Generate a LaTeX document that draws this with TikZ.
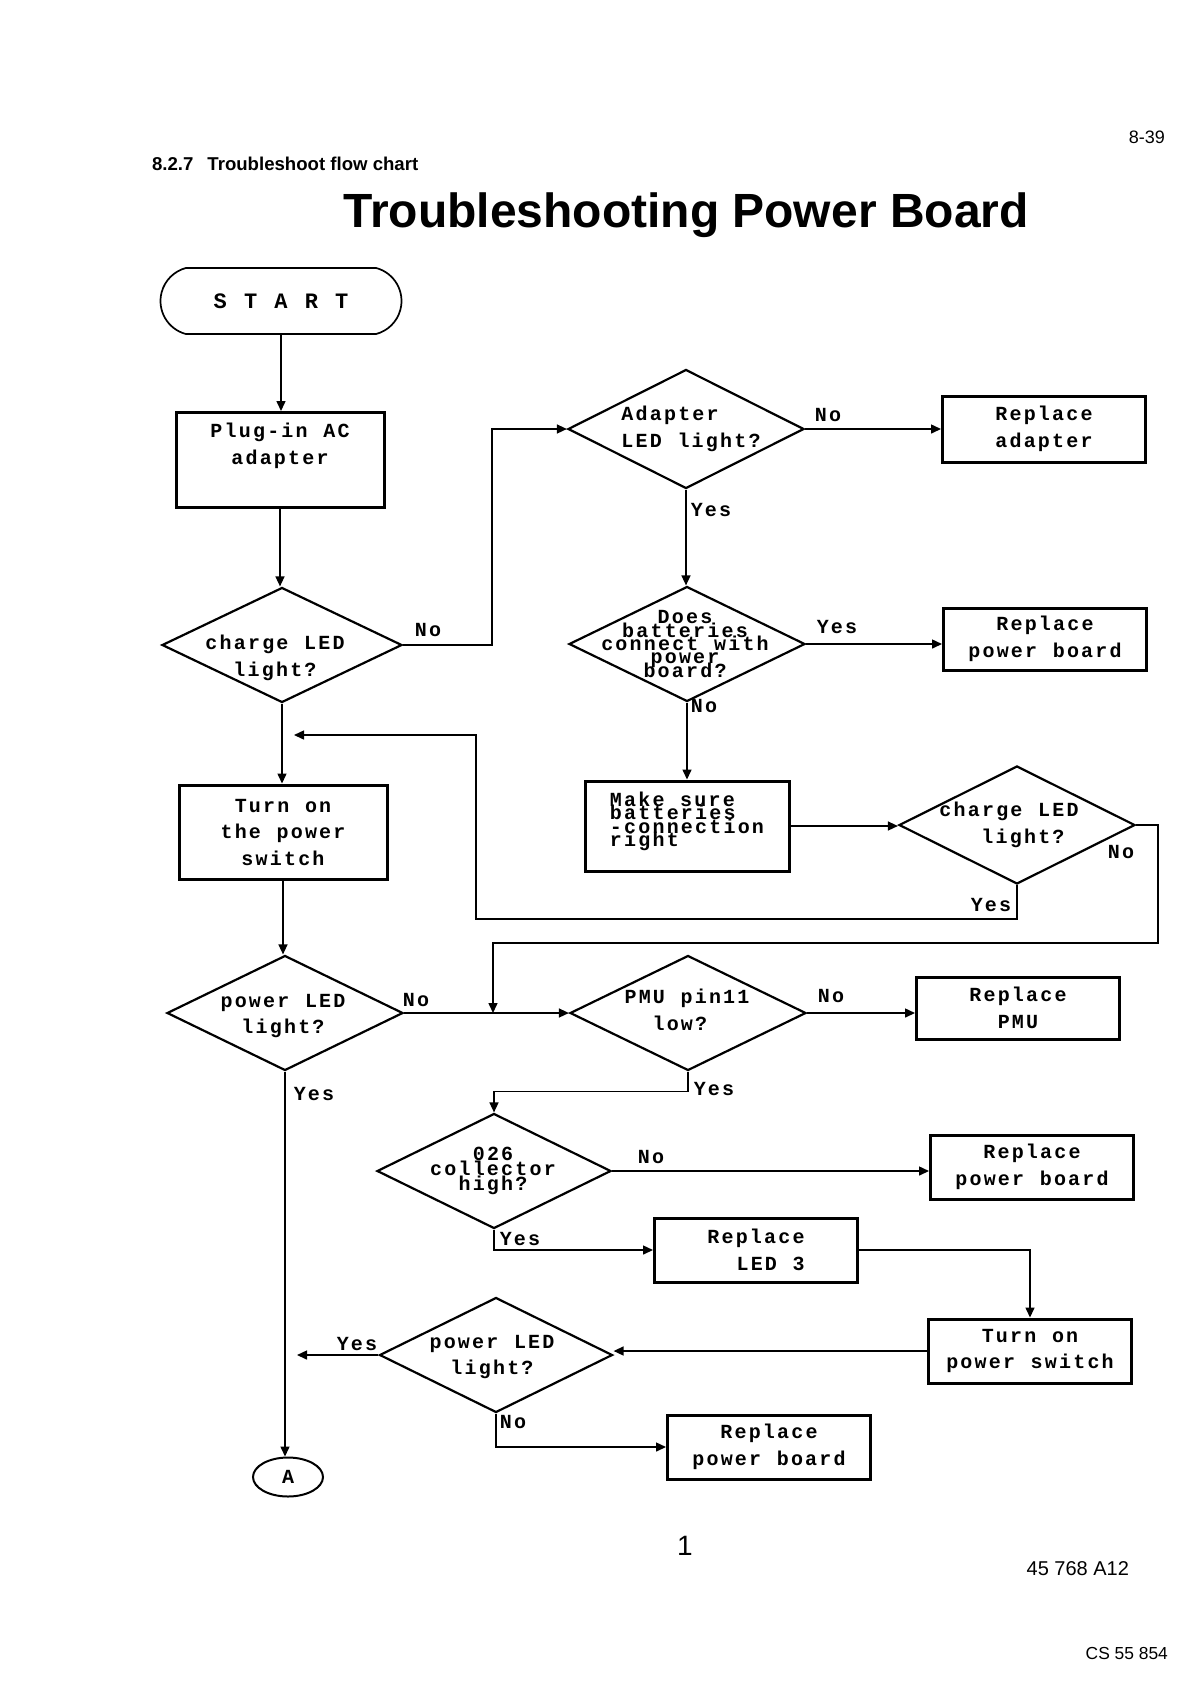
\documentclass[tikz,border=0pt]{standalone}
\usepackage{fontspec}
\setmainfont{Liberation Sans}
\newfontfamily\plotfont[LetterSpace=11,WordSpace=1.1]{Liberation Mono Bold}
\usetikzlibrary{shapes.geometric,shapes.misc,arrows.meta}

\begin{document}
\begin{tikzpicture}[x=0.5pt,y=-0.5pt,
    chart/.style={font=\plotfont\fontsize{10}{13.25}\selectfont},
    box/.style={chart, draw, line width=1.5pt, rectangle, inner sep=0pt,
      minimum width=101.5pt, minimum height=32pt, align=center},
    dec/.style={draw, line width=1.1pt, shape=diamond, inner sep=0pt,
      minimum width=118pt, minimum height=57.5pt},
    dtext/.style={chart, inner sep=0pt, align=center},
    lbl/.style={chart, inner sep=0pt},
    arr/.style={line width=0.75pt, -{Triangle[length=5pt,width=4.5pt]}}]
    \useasboundingbox (0,0) rectangle (1191,1682);

    % Page header
    \node[anchor=base east, font=\fontsize{9}{11}\selectfont] (pageno) at (1172,143) {8-39};
    \node[anchor=base west, font=\fontsize{9.3}{11}\selectfont\bfseries] (section) at (145,170)
        {8.2.7\hspace{7pt}Troubleshoot flow chart};
    \node[anchor=base, font=\fontsize{24}{28}\selectfont\bfseries] (title) at (686,227)
        {Troubleshooting Power Board};

    % Left column
    \node[chart, draw, line width=0.85pt, rounded rectangle, rounded rectangle arc length=150,
        minimum width=120.5pt, minimum height=33pt, inner sep=0pt,
        font=\plotfont\fontsize{11}{13}\selectfont] (start) at (281,301) {S T A R T};
    \node[box, minimum height=47.5pt, minimum width=104pt] (plug) at (280,460) {Plug-in AC\\adapter\\[3pt]\mbox{}};
    \node[dec, minimum width=120pt] (chg) at (282,645) {};
    \node[dtext] (chgtxt) at (275,658) {charge LED\\light?};
    \node[box, minimum height=47pt, minimum width=104pt] (turn) at (283,832) {Turn on\\the power\\switch};
    \node[dec] (pwr) at (285,1013) {};
    \node[dtext] (pwrtxt) at (283,1016) {power LED\\light?};
    \node[draw, line width=1pt, ellipse, minimum width=35pt, minimum height=19.5pt, inner sep=0pt,
        chart] (A) at (288,1477) {A};

    % Adapter branch
    \node[dec, minimum height=59.5pt] (adp) at (686,429) {};
    \node[dtext, align=left] (adptxt) at (691,429) {Adapter\\LED light?};
    \node[box, minimum height=33pt] (repadp) at (1044,429) {Replace\\adapter};
    \node[dec] (bat) at (687,644) {};
    \node[dtext] (battxt) at (685,644)
        {Does\\[-6.6pt]batteries\\[-6.6pt]connect with\\[-6.6pt]power\\[-6.6pt]board?};
    \node[box, minimum height=31pt] (repbrd) at (1045,639) {Replace\\power board};
    \node[box, minimum height=45pt, minimum width=102pt, align=left] (make) at (687,826)
        {Make sure\\[-6.6pt]batteries\\[-6.6pt]-connection\\[-6.6pt]right\\[-6.6pt]\mbox{}};
    \node[dec, minimum height=59pt] (chgb) at (1017,825) {};
    \node[dtext, align=left] (chgbtxt) at (1009,825) {charge LED\\\hspace*{21pt}light?};

    % PMU branch
    \node[dec] (pmu) at (688,1013) {};
    \node[dtext, align=left] (pmutxt) at (687,1010) {PMU pin11\\\hspace*{14pt}low?};
    \node[box, minimum height=31pt] (reppmu) at (1018,1008) {Replace\\PMU};
    \node[dec, minimum width=117pt] (col) at (494,1171) {};
    \node[dtext] (coltxt) at (493,1171) {026\\[-5.8pt]collector\\[-5.8pt]high?};
    \node[box] (repbrdb) at (1032,1167) {Replace\\power board};
    \node[box, align=right] (repled) at (756,1250) {Replace\\LED 3};
    \node[box] (turnb) at (1030,1351) {Turn on\\power switch};
    \node[dec, minimum width=116.5pt] (pwrb) at (496,1355) {};
    \node[dtext] (pwrbtxt) at (492,1357) {power LED\\light?};
    \node[box] (repbrdc) at (769,1447) {Replace\\power board};

    % Free ends
    \coordinate (jpmu) at (493,1013);
    \coordinate (jturn) at (294,735);
    \coordinate (jout) at (297,1355);

    % Connectors
    \draw[arr] (start.south) -- (start.south |- plug.north);
    \draw[arr] (plug.south) -- (plug.south |- chg.north);
    \draw[arr] (chg.south) -- (chg.south |- turn.north);
    \draw[arr] (turn.south) -- (turn.south |- pwr.north);
    \draw[arr] (pwr.south) -- (pwr.south |- A.north);
    \draw[arr] (chg.east) -- ++(89,0) |- (adp.west);
    \draw[arr] (adp.east) -- (adp.east -| repadp.west);
    \draw[arr] (adp.south) -- (adp.south |- bat.north);
    \draw[arr] (bat.east) -- (bat.east -| repbrd.west);
    \draw[arr] (bat.south) -- (bat.south |- make.north);
    \draw[arr] (make.east) -- (make.east -| chgb.west);
    \draw[arr] (chgb.east) -- ++(22,0) -- ++(0,118) -| (jpmu);
    \draw[arr] (chgb.south) -- ++(0,34) -- ++(-541,0) |- (jturn);
    \draw[arr] (pwr.east) -- (pmu.west);
    \draw[arr] (pmu.east) -- (pmu.east -| reppmu.west);
    \draw[arr] (pmu.south) -- ++(0,20) -| (col.north);
    \draw[arr] (col.east) -- (col.east -| repbrdb.west);
    \draw[arr] (col.south) |- (repled.west);
    \draw[arr] (repled.east) -| (turnb.north);
    \draw[arr] (turnb.west) -- (turnb.west -| pwrb.east);
    \draw[arr] (pwrb.west) -- (jout);
    \draw[arr] (pwrb.south) |- (repbrdc.west);

    % Yes / No labels
    \node[lbl] (nochg) at (428,630) {No};
    \node[lbl] (noadp) at (828,415) {No};
    \node[lbl] (yesadp) at (711,510) {Yes};
    \node[lbl] (yesbat) at (837,627) {Yes};
    \node[lbl] (nobat) at (704,706) {No};
    \node[lbl] (nochgb) at (1121,852) {No};
    \node[lbl] (yeschgb) at (991,905) {Yes};
    \node[lbl] (nopwr) at (416,1000) {No};
    \node[lbl] (yespwr) at (314,1094) {Yes};
    \node[lbl] (nopmu) at (831,996) {No};
    \node[lbl] (yespmu) at (714,1089) {Yes};
    \node[lbl] (nocol) at (651,1157) {No};
    \node[lbl] (yescol) at (520,1239) {Yes};
    \node[lbl] (yespwrb) at (357,1344) {Yes};
    \node[lbl] (nopwrb) at (513,1422) {No};

    % Page footer
    \node[anchor=base, font=\fontsize{14}{16}\selectfont] (page) at (685,1555) {1};
    \node[anchor=base east, font=\fontsize{10}{12}\selectfont] (docno) at (1136,1575) {45 768 A12};
    \node[anchor=base east, font=\fontsize{8.7}{11}\selectfont] (csno) at (1175,1659) {CS 55 854};
\end{tikzpicture}
\end{document}
